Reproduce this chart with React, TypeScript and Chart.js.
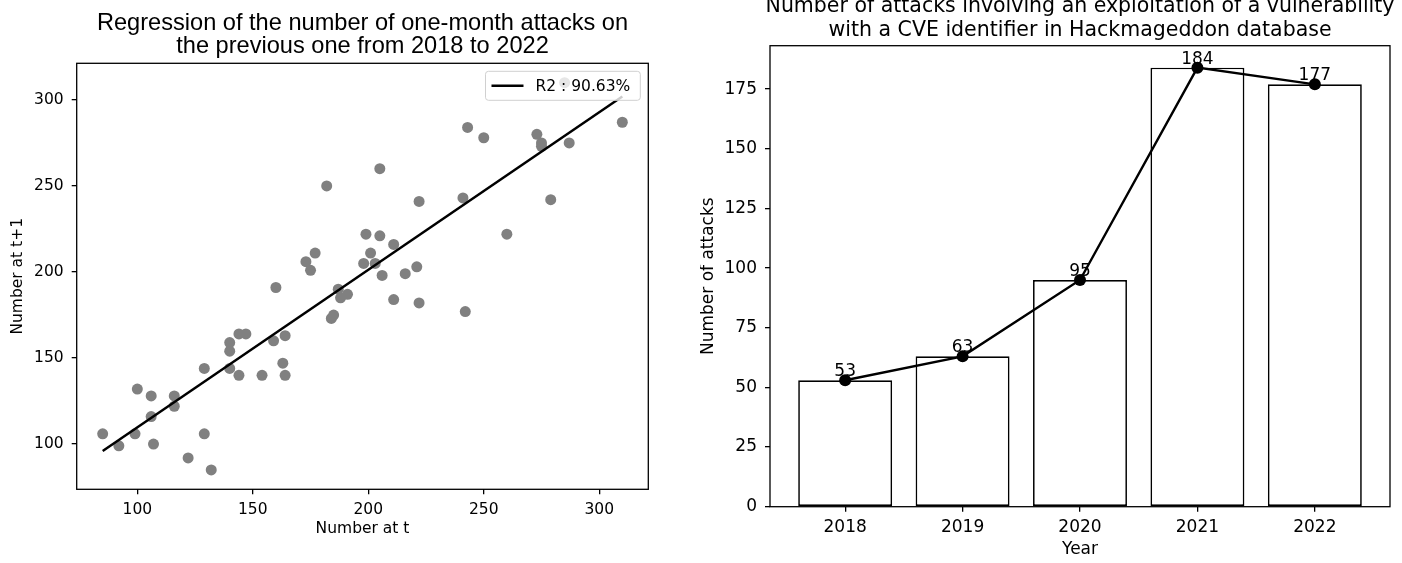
import React, { useEffect, useRef } from 'react';
import { Chart, registerables } from 'chart.js';

Chart.register(...registerables);

// ---------- Left chart data: regression of month t+1 on month t ----------
const scatterX = [
  85, 92, 99, 100, 106, 106, 107, 116, 116, 122, 129, 129, 132, 140, 140, 140, 144, 147, 144, 154,
  159, 164, 163, 164, 160, 184, 185, 187, 188, 191, 211, 222, 242, 182, 177, 173, 175, 205, 199, 205,
  211, 201, 198, 203, 206, 216, 221, 222, 241, 243, 250, 260, 273, 275, 275, 279, 287, 310, 285,
];
const scatterY = [
  106, 99, 106, 132, 128, 116, 100, 128, 122, 92, 106, 144, 85, 159, 154, 144, 164, 164, 140, 140,
  160, 163, 147, 140, 191, 173, 175, 190, 185, 187, 184, 182, 177, 250, 211, 206, 201, 260, 222, 221,
  216, 211, 205, 205, 198, 199, 203, 241, 243, 284, 278, 222, 280, 275, 273, 242, 275, 287, 310,
];
const fitX = [85, 310];
const fitY = [96, 302];
const fitLabel = 'R2 : 90.63%';
const scatterTicks = [100, 150, 200, 250, 300];
const leftTitle = ['Regression of the number of one-month attacks on', 'the previous one from 2018 to 2022'];

// ---------- Right chart data: attacks exploiting a CVE per year ----------
const years = [2018, 2019, 2020, 2021, 2022];
const attacks = [53, 63, 95, 184, 177];
const attackTicks = [0, 25, 50, 75, 100, 125, 150, 175];
const rightTitle = [
  'Number of attacks involving an exploitation of a vulnerability',
  'with a CVE identifier in Hackmageddon database',
];

const FONT = "'DejaVu Sans', sans-serif";

function framePlugin(lw: number) {
  return {
    id: 'frame',
    afterDatasetsDraw(chart: any) {
      const { ctx, chartArea: a } = chart;
      ctx.save();
      ctx.strokeStyle = '#000';
      ctx.lineWidth = lw;
      ctx.strokeRect(a.left, a.top, a.right - a.left, a.bottom - a.top);
      ctx.restore();
    },
  };
}

function titlePlugin(lines: string[], font: string, baselines: number[]) {
  return {
    id: 'customTitle',
    afterDraw(chart: any) {
      const { ctx, chartArea: a } = chart;
      ctx.save();
      ctx.fillStyle = '#000';
      ctx.font = font;
      ctx.textAlign = 'center';
      ctx.textBaseline = 'alphabetic';
      const cx = (a.left + a.right) / 2;
      lines.forEach((l, i) => ctx.fillText(l, cx, baselines[i]));
      ctx.restore();
    },
  };
}

const legendPlugin = {
  id: 'insideLegend',
  afterDraw(chart: any) {
    const { ctx, chartArea: a } = chart;
    const label = chart.data.datasets[0].label;
    ctx.save();
    ctx.font = `15.5px ${FONT}`;
    const tw = ctx.measureText(label).width;
    const w = 8 + 32 + 12 + tw + 8;
    const h = 29;
    const x = a.right - 8 - w;
    const y = a.top + 8;
    ctx.beginPath();
    ctx.roundRect(x, y, w, h, 3);
    ctx.fillStyle = 'rgba(255,255,255,0.8)';
    ctx.fill();
    ctx.strokeStyle = '#d0d0d0';
    ctx.lineWidth = 1;
    ctx.stroke();
    ctx.beginPath();
    ctx.moveTo(x + 6, y + h / 2);
    ctx.lineTo(x + 38, y + h / 2);
    ctx.strokeStyle = '#000';
    ctx.lineWidth = 2.5;
    ctx.stroke();
    ctx.fillStyle = '#000';
    ctx.textBaseline = 'middle';
    ctx.textAlign = 'left';
    ctx.fillText(label, x + 50, y + h / 2 + 1);
    ctx.restore();
  },
};

const valueLabelPlugin = {
  id: 'valueLabels',
  afterDatasetsDraw(chart: any) {
    const { ctx } = chart;
    const meta = chart.getDatasetMeta(0);
    const data = chart.data.datasets[0].data;
    ctx.save();
    ctx.fillStyle = '#000';
    ctx.font = `17px ${FONT}`;
    ctx.textAlign = 'center';
    ctx.textBaseline = 'alphabetic';
    meta.data.forEach((el: any, i: number) => {
      ctx.fillText(String(data[i].y), el.x, el.y - 4);
    });
    ctx.restore();
  },
};

function axisBase(fontSize: number, pad: number) {
  return {
    grid: { drawOnChartArea: false, drawTicks: true, tickLength: 5, color: '#000', lineWidth: 1.3, offset: false },
    border: { display: false },
    ticks: {
      color: '#000',
      font: { family: FONT, size: fontSize },
      padding: pad,
      autoSkip: false,
      maxRotation: 0,
      callback: (v: any) => String(v),
    },
  };
}

export default function App() {
  const leftRef = useRef<HTMLCanvasElement>(null);
  const rightRef = useRef<HTMLCanvasElement>(null);

  useEffect(() => {
    Chart.defaults.color = '#000';
    const left = new Chart(leftRef.current as HTMLCanvasElement, {
      type: 'scatter',
      data: {
        datasets: [
          {
            type: 'line',
            label: fitLabel,
            data: fitX.map((x, i) => ({ x, y: fitY[i] })),
            borderColor: '#000',
            borderWidth: 2.5,
            pointRadius: 0,
            showLine: true,
            order: 0,
          } as any,
          {
            type: 'scatter',
            label: 'data',
            data: scatterX.map((x, i) => ({ x, y: scatterY[i] })),
            backgroundColor: '#808080',
            borderWidth: 0,
            pointRadius: 5.5,
            order: 1,
          },
        ],
      },
      options: {
        animation: false,
        responsive: false,
        layout: { padding: { left: 0, right: 51.7, top: 63.3, bottom: 0 } },
        plugins: { legend: { display: false }, tooltip: { enabled: false }, title: { display: false } },
        scales: {
          x: {
            type: 'linear',
            min: 73.75,
            max: 321.25,
            ...axisBase(15.5, 6),
            afterBuildTicks: (s: any) => { s.ticks = scatterTicks.map((v) => ({ value: v })); },
            afterFit: (s: any) => { s.height = 563 - 489.3; },
            title: { display: true, text: 'Number at t', color: '#000', font: { family: FONT, size: 15.5 }, padding: { top: 0, bottom: 25 } },
          } as any,
          y: {
            type: 'linear',
            min: 73.75,
            max: 321.25,
            ...axisBase(15.5, 8),
            afterBuildTicks: (s: any) => { s.ticks = scatterTicks.map((v) => ({ value: v })); },
            afterFit: (s: any) => { s.width = 76.7; },
            title: { display: true, text: 'Number at t+1', color: '#000', font: { family: FONT, size: 15.5 }, padding: { top: 9, bottom: 0 } },
          } as any,
        },
      },
      plugins: [framePlugin(1.3), titlePlugin(leftTitle, `23.6px 'Liberation Sans', Arial, sans-serif`, [30, 53]), legendPlugin],
    });

    const right = new Chart(rightRef.current as HTMLCanvasElement, {
      type: 'bar',
      data: {
        datasets: [
          {
            type: 'line',
            label: 'line',
            data: years.map((x, i) => ({ x, y: attacks[i] })),
            borderColor: '#000',
            borderWidth: 2.4,
            pointRadius: 6,
            pointBackgroundColor: '#000',
            pointBorderColor: '#000',
            pointBorderWidth: 0,
            order: 0,
          } as any,
          {
            type: 'bar',
            label: 'bars',
            data: years.map((x, i) => ({ x, y: attacks[i] })),
            backgroundColor: '#fff',
            borderColor: '#000',
            borderWidth: 1.7,
            borderSkipped: false,
            categoryPercentage: 1,
            barPercentage: 0.8,
            order: 1,
          } as any,
        ],
      },
      options: {
        animation: false,
        responsive: false,
        layout: { padding: { left: 0, right: 12, top: 45.7, bottom: 0 } },
        plugins: { legend: { display: false }, tooltip: { enabled: false }, title: { display: false } },
        scales: {
          x: {
            type: 'linear',
            min: 2017.36,
            max: 2022.64,
            offset: false,
            ...axisBase(17, 6),
            afterBuildTicks: (s: any) => { s.ticks = years.map((v) => ({ value: v })); },
            afterFit: (s: any) => { s.height = 563 - 506.7; },
            title: { display: true, text: 'Year', color: '#000', font: { family: FONT, size: 17 }, padding: { top: 0, bottom: 3 } },
          } as any,
          y: {
            type: 'linear',
            min: 0,
            max: 193.2,
            ...axisBase(17, 8),
            afterBuildTicks: (s: any) => { s.ticks = attackTicks.map((v) => ({ value: v })); },
            afterFit: (s: any) => { s.width = 70; },
            title: { display: true, text: 'Number of attacks', color: '#000', font: { family: FONT, size: 17 }, padding: { top: -2, bottom: 0 } },
          } as any,
        },
      },
      plugins: [framePlugin(1.3), valueLabelPlugin, titlePlugin(rightTitle, `20.5px ${FONT}`, [12, 36])],
    });

    return () => {
      left.destroy();
      right.destroy();
    };
  }, []);

  return (
    <div style={{ position: 'absolute', left: 0, top: 0, width: 1402, height: 563, background: '#fff', overflow: 'hidden' }}>
      <canvas ref={leftRef} width={700} height={563} style={{ position: 'absolute', left: 0, top: 0, width: 700, height: 563 }} />
      <canvas ref={rightRef} width={702} height={563} style={{ position: 'absolute', left: 700, top: 0, width: 702, height: 563 }} />
    </div>
  );
}
